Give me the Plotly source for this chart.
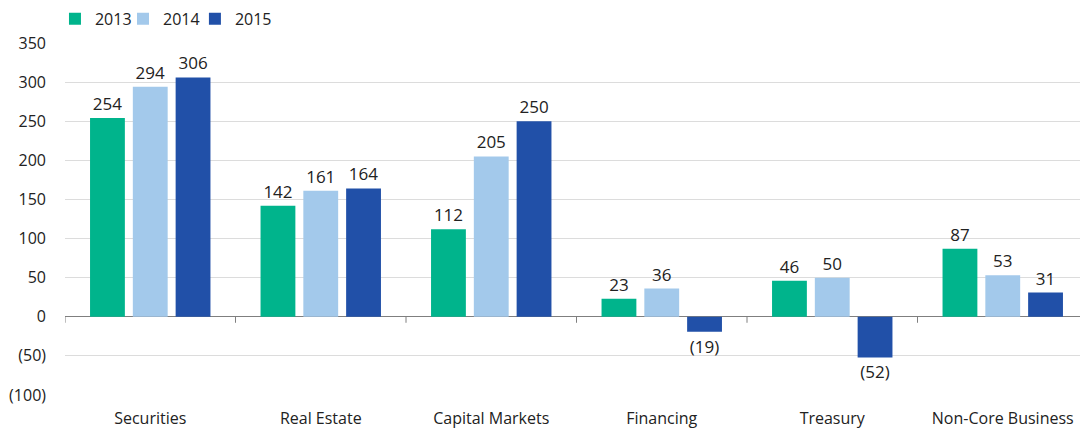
import plotly.graph_objects as go

categories = ["Securities", "Real Estate", "Capital Markets", "Financing", "Treasury", "Non-Core Business"]
years = ["2013", "2014", "2015"]
v2013 = [254, 142, 112, 23, 46, 87]
v2014 = [294, 161, 205, 36, 50, 53]
v2015 = [306, 164, 250, -19, -52, 31]
colors = ["#00B48C", "#A3C9EB", "#2150A8"]
ytick_vals = [-100, -50, 0, 50, 100, 150, 200, 250, 300, 350]
ytick_text = ["(100)", "(50)", "0", "50", "100", "150", "200", "250", "300", "350"]


def fmt(v):
    return f"({abs(v)})" if v < 0 else str(v)


FONT = "Open Sans, Noto Sans, sans-serif"
legend_ids = ["legend", "legend2", "legend3"]
legend_x = [-0.0098, 0.0567, 0.127]

fig = go.Figure()
for name, vals, col, lg in zip(years, [v2013, v2014, v2015], colors, legend_ids):
    fig.add_trace(go.Bar(
        x=categories, y=vals, name=name, marker=dict(color=col, line=dict(width=0)),
        text=[fmt(v) for v in vals], textposition="outside", cliponaxis=False,
        textfont=dict(size=17, color="#222222", family=FONT), legend=lg,
    ))

# tick marks along the zero line at category boundaries
for i in range(len(categories) + 1):
    fig.add_shape(type="line", xref="x", yref="y", x0=i - 0.5, x1=i - 0.5,
                  ysizemode="pixel", yanchor=0, y0=0, y1=-6,
                  line=dict(color="#7f7f7f", width=1))

fig.update_layout(
    width=1080, height=423,
    margin=dict(l=57, r=0, t=35, b=36, autoexpand=False),
    plot_bgcolor="white", paper_bgcolor="white",
    barmode="group", bargap=0.247, bargroupgap=0.186,
    font=dict(family=FONT, size=16, color="#222222"),
    showlegend=True,
)
for lg, lx in zip(legend_ids, legend_x):
    fig.update_layout({lg: dict(orientation="h", x=lx, y=1.117, xref="paper", yref="paper",
                                xanchor="left", yanchor="top", font=dict(size=16),
                                bgcolor="rgba(0,0,0,0)", itemsizing="constant")})

fig.update_xaxes(showgrid=False, showline=False, ticks="", tickfont=dict(size=16),
                 range=[-0.5, len(categories) - 0.5], automargin=False,
                 ticklabelstandoff=12)
fig.update_yaxes(range=[-100, 350], tickvals=ytick_vals, ticktext=ytick_text,
                 showgrid=True, gridcolor="#dcdcdc", gridwidth=1,
                 zeroline=True, zerolinecolor="#7f7f7f", zerolinewidth=1,
                 showline=False, ticks="", ticklabelstandoff=18, tickfont=dict(size=16),
                 automargin=False)

fig.write_html("out.html")
